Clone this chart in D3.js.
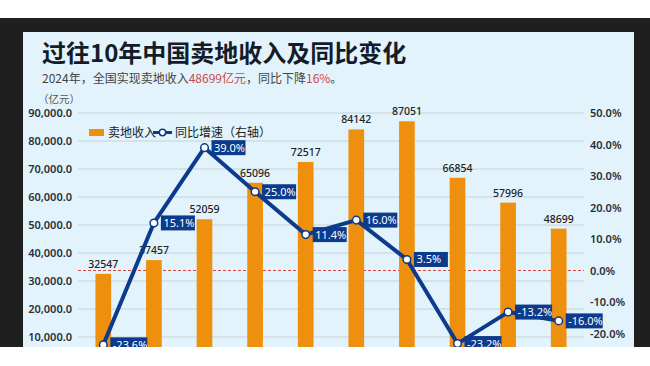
<!DOCTYPE html>
<html><head><meta charset="utf-8">
<script src="https://cdn.jsdelivr.net/npm/d3@7/dist/d3.min.js"></script>
<style>body{margin:0;background:#fff;}svg{display:block;font-family:"Noto Sans CJK SC","Noto Sans",sans-serif;}</style>
</head><body>
<svg id="c" width="650" height="366"></svg>
<script>
const years = ["2015","2016","2017","2018","2019","2020","2021","2022","2023","2024"];
const revenue = [32547,37457,52059,65096,72517,84142,87051,66854,57996,48699];
const growth = [-23.6,15.1,39.0,25.0,11.4,16.0,3.5,-23.2,-13.2,-16.0];
const leftTicks = [10000,20000,30000,40000,50000,60000,70000,80000,90000];
const rightTicks = [-20,-10,0,10,20,30,40,50];

const svg = d3.select("#c");
const navy = "#0c3a8c", orange = "#ee900e";
const pct = d => (d<0?"-":"") + Math.abs(d).toFixed(1) + "%";

svg.append("rect").attr("x",0).attr("y",18).attr("width",650).attr("height",329).attr("fill","#1f1f1f");
svg.append("rect").attr("x",23).attr("y",32).attr("width",611).attr("height",315).attr("fill","#e3f3fb");
svg.append("defs").append("clipPath").attr("id","clip").append("rect").attr("x",23).attr("y",32).attr("width",611).attr("height",315);
const g = svg.append("g").attr("clip-path","url(#clip)");

g.append("text").attr("x",42).attr("y",62).attr("font-size",24).attr("font-weight",700).attr("fill","#141c2a").text("过往10年中国卖地收入及同比变化");
const sub = g.append("text").attr("x",42).attr("y",83).attr("font-size",12).attr("fill","#444");
sub.append("tspan").text("2024年，全国实现卖地收入");
sub.append("tspan").attr("fill","#d0454a").text("48699亿元");
sub.append("tspan").text("，同比下降");
sub.append("tspan").attr("fill","#d0454a").text("16%");
sub.append("tspan").text("。");
g.append("text").attr("x",38).attr("y",103).attr("font-size",10.5).attr("fill","#555").text("（亿元）");

const x = d3.scaleBand().domain(years).range([78,584]).paddingInner(0.69).paddingOuter(0.345);
const yL = d3.scaleLinear().domain([0,90000]).range([365,113]);
const yR = d3.scaleLinear().domain([-30,50]).range([365,113]);

// grid
g.append("g").selectAll("line").data(leftTicks).join("line")
 .attr("x1",78).attr("x2",584).attr("y1",d=>yL(d)).attr("y2",d=>yL(d))
 .attr("stroke","#c5d2da").attr("stroke-width",1);

// left axis
const axL = g.append("g").attr("transform","translate(74,0)")
 .call(d3.axisLeft(yL).tickValues(leftTicks).tickFormat(d3.format(",.1f")).tickSize(0).tickPadding(2));
axL.select(".domain").remove();
axL.selectAll("text").attr("font-size",11).attr("font-weight",600).attr("fill","#2a2f38").attr("font-family","'Noto Sans','Noto Sans CJK SC',sans-serif");

// right axis
const axR = g.append("g").attr("transform","translate(588,0)")
 .call(d3.axisRight(yR).tickValues(rightTicks).tickFormat(pct).tickSize(0).tickPadding(2));
axR.select(".domain").remove();
axR.selectAll("text").attr("font-size",11).attr("font-weight",600).attr("fill","#2a2f38").attr("font-family","'Noto Sans','Noto Sans CJK SC',sans-serif");

// zero dashed line
g.append("line").attr("x1",78).attr("x2",584).attr("y1",yR(0)).attr("y2",yR(0))
 .attr("stroke","#d9463a").attr("stroke-width",1).attr("stroke-dasharray","3,2");

// bars
g.append("g").selectAll("rect").data(years).join("rect")
 .attr("x",d=>x(d)).attr("width",x.bandwidth())
 .attr("y",(d,i)=>yL(revenue[i])).attr("height",(d,i)=>yL(0)-yL(revenue[i]))
 .attr("fill",orange);
g.append("g").selectAll("text").data(years).join("text")
 .attr("x",d=>x(d)+x.bandwidth()/2).attr("y",(d,i)=>yL(revenue[i])-6)
 .attr("text-anchor","middle").attr("font-size",10.5).attr("font-weight",500).attr("fill","#222")
 .attr("font-family","'Noto Sans',sans-serif")
 .text((d,i)=>revenue[i]);

// line
const cx = d=>x(d)+x.bandwidth()/2;
g.append("path").datum(years)
 .attr("d",d3.line().x(d=>cx(d)).y((d,i)=>yR(growth[i])))
 .attr("fill","none").attr("stroke",navy).attr("stroke-width",4).attr("stroke-linejoin","round");
g.append("g").selectAll("circle").data(years).join("circle")
 .attr("cx",d=>cx(d)).attr("cy",(d,i)=>yR(growth[i])).attr("r",3.8)
 .attr("fill","#fff").attr("stroke",navy).attr("stroke-width",1.5);

// labels
const lab = g.append("g").selectAll("g").data(years).join("g")
 .attr("transform",(d,i)=>`translate(${cx(d)+7},${yR(growth[i])})`);
lab.append("rect").attr("x",0).attr("y",-7.5).attr("height",15)
 .attr("width",(d,i)=>growth[i]<0?37:34).attr("fill",navy);
lab.append("text").attr("x",2.5).attr("y",4).attr("font-size",11).attr("fill","#fff")
 .attr("font-family","'Noto Sans',sans-serif")
 .text((d,i)=>pct(growth[i]));

// legend
const lg = g.append("g");
lg.append("rect").attr("x",89).attr("y",129).attr("width",15).attr("height",7).attr("fill",orange);
lg.append("text").attr("x",108).attr("y",137).attr("font-size",12).attr("fill","#222").text("卖地收入");
lg.append("line").attr("x1",153).attr("x2",172).attr("y1",132.5).attr("y2",132.5).attr("stroke",navy).attr("stroke-width",3);
lg.append("circle").attr("cx",162.5).attr("cy",132.5).attr("r",3.2).attr("fill","#fff").attr("stroke",navy).attr("stroke-width",1.5);
lg.append("text").attr("x",175).attr("y",137).attr("font-size",12).attr("fill","#222").text("同比增速（右轴）");
</script>
</body></html>
